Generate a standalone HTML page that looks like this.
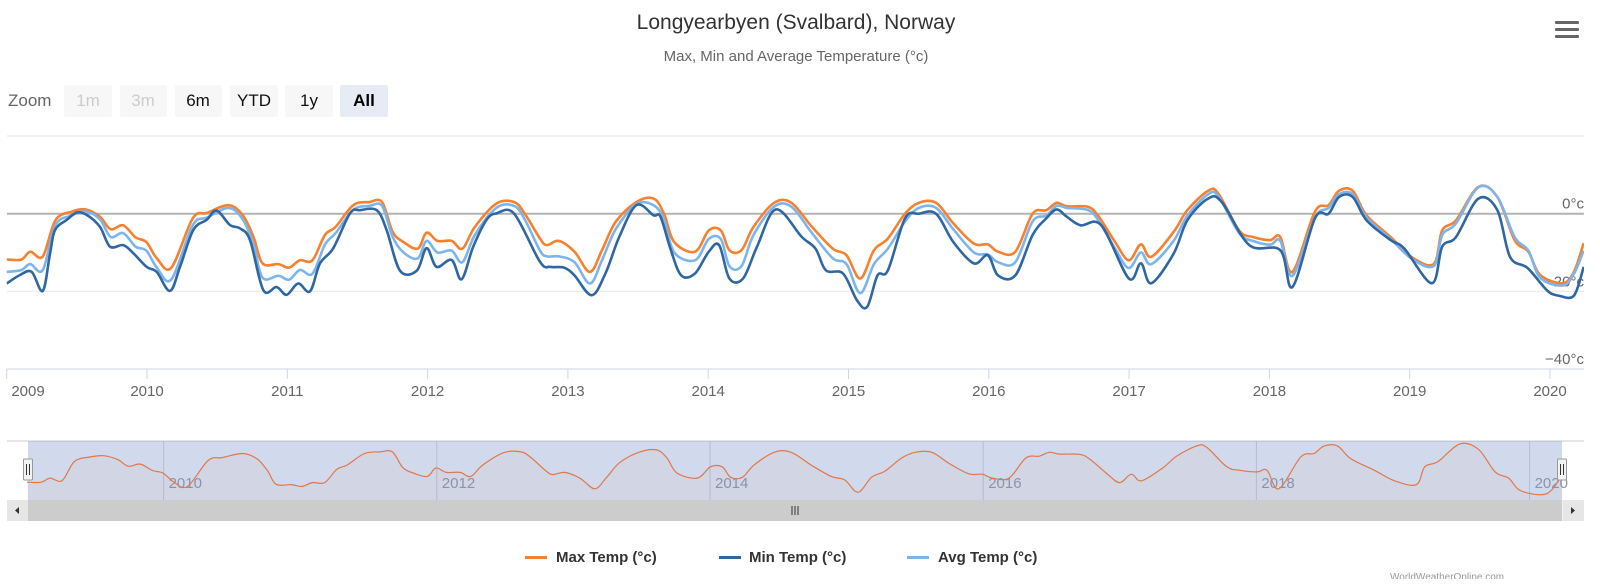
<!DOCTYPE html>
<html><head><meta charset="utf-8">
<style>
html,body{margin:0;padding:0;background:#fff;}
body{width:1600px;height:579px;overflow:hidden;font-family:"Liberation Sans",sans-serif;}
svg text{font-family:"Liberation Sans",sans-serif;}
</style></head>
<body>
<svg id="chart" width="1600" height="579" viewBox="0 0 1600 579" xmlns="http://www.w3.org/2000/svg">
  <rect x="0" y="0" width="1600" height="579" fill="#ffffff"/>
  <text x="796" y="29" text-anchor="middle" font-size="21" fill="#333">Longyearbyen (Svalbard), Norway</text>
  <text x="796" y="61" text-anchor="middle" font-size="15" fill="#666">Max, Min and Average Temperature (°c)</text>
  <g fill="#666">
    <rect x="1555" y="21" width="24" height="3" rx="1"/>
    <rect x="1555" y="28" width="24" height="3" rx="1"/>
    <rect x="1555" y="35" width="24" height="3" rx="1"/>
  </g>
  <text x="8" y="106" font-size="17" fill="#666">Zoom</text>
  <g><rect x="64" y="85" width="48" height="32" rx="2" fill="#f7f7f7"/><text x="88" y="106" text-anchor="middle" font-size="17" fill="#ccc">1m</text></g>
  <g><rect x="120" y="85" width="47" height="32" rx="2" fill="#f7f7f7"/><text x="143" y="106" text-anchor="middle" font-size="17" fill="#ccc">3m</text></g>
  <g><rect x="175" y="85" width="47" height="32" rx="2" fill="#f7f7f7"/><text x="198" y="106" text-anchor="middle" font-size="17" fill="#111">6m</text></g>
  <g><rect x="230" y="85" width="48" height="32" rx="2" fill="#f7f7f7"/><text x="254" y="106" text-anchor="middle" font-size="17" fill="#111">YTD</text></g>
  <g><rect x="285" y="85" width="48" height="32" rx="2" fill="#f7f7f7"/><text x="309" y="106" text-anchor="middle" font-size="17" fill="#111">1y</text></g>
  <g><rect x="340" y="85" width="48" height="32" rx="2" fill="#e6ebf5"/><text x="364" y="106" text-anchor="middle" font-size="17" font-weight="bold" fill="#000">All</text></g>
  <g id="grid"></g>
  <g id="series"></g>
  <g id="xaxis"></g>
  <g id="nav"></g>
  <g>
    <g><rect x="525" y="556" width="22" height="3" fill="#f7812e"/><text x="556" y="562" font-size="15" font-weight="bold" fill="#333">Max Temp (°c)</text></g>
    <g><rect x="719" y="556" width="22" height="3" fill="#2f67a3"/><text x="749" y="562" font-size="15" font-weight="bold" fill="#333">Min Temp (°c)</text></g>
    <g><rect x="907" y="556" width="22" height="3" fill="#7cb5ec"/><text x="938" y="562" font-size="15" font-weight="bold" fill="#333">Avg Temp (°c)</text></g>
  </g>
  <text x="1390" y="580" font-size="10" fill="#999">WorldWeatherOnline.com</text>
</svg>
<script>
const maxDates=[2009.0,2009.105,2009.168,2009.257,2009.347,2009.461,2009.563,2009.665,2009.741,2009.830,2009.919,2009.995,
2010.072,2010.174,2010.326,2010.428,2010.581,2010.683,2010.759,2010.823,2010.937,
2011.013,2011.090,2011.179,2011.268,2011.344,2011.471,2011.586,2011.675,2011.751,2011.828,2011.930,2011.993,
2012.070,2012.171,2012.248,2012.337,2012.490,2012.617,2012.693,2012.801,2012.850,2012.936,
2013.047,2013.157,2013.243,2013.341,2013.488,2013.611,2013.685,2013.758,2013.906,
2014.004,2014.090,2014.151,2014.237,2014.323,2014.470,2014.593,2014.740,2014.888,2014.986,
2015.084,2015.182,2015.281,2015.403,2015.502,2015.624,2015.747,2015.894,2015.993,
2016.066,2016.189,2016.312,2016.410,2016.484,2016.557,2016.703,2016.777,2016.900,2016.998,
2017.084,2017.158,2017.317,2017.415,2017.563,2017.636,2017.784,2017.882,
2018.005,2018.078,2018.164,2018.324,2018.422,2018.496,2018.594,2018.692,2018.864,
2019.011,2019.171,2019.232,2019.330,2019.490,2019.625,2019.748,2019.846,2019.93,
2020.09,2020.17,2020.24];
const maxValues=[-11.8,-11.8,-9.8,-11.0,-1.7,0.5,1.1,-0.8,-4.0,-3.0,-6.1,-7.3,
-11.6,-13.9,-1.2,0.2,2.2,-0.4,-6.0,-12.8,-13.0,
-13.9,-12.0,-12.0,-5.5,-3.4,2.2,3.0,3.0,-4.7,-7.3,-9.0,-4.9,
-7.0,-7.0,-9.0,-3.4,2.6,3.0,0.0,-6.4,-8.1,-7.0,
-9.8,-15.0,-9.4,-2.1,3.0,3.9,0.0,-7.3,-9.8,
-4.3,-4.3,-9.4,-9.4,-3.4,2.8,2.8,-3.4,-9.0,-10.7,
-16.7,-9.4,-6.4,0.0,2.8,2.8,-2.5,-7.7,-7.9,
-9.8,-9.8,0.0,0.9,2.8,1.9,1.8,-0.4,-7.3,-12.0,
-7.9,-11.1,-4.7,0.9,5.9,5.2,-4.3,-6.0,
-6.8,-6.0,-15.0,0.5,2.2,5.9,5.9,-0.4,-6.0,
-11.1,-13.0,-4.3,-1.7,6.9,4.3,-6.8,-9.8,-15.8,
-17.9,-15.0,-7.6];
const avgDates=maxDates.slice();
const avgValues=[-15.0,-14.5,-13.0,-14.5,-3.0,-0.5,0.6,-1.5,-6.0,-5.0,-8.5,-9.5,
-14.0,-16.9,-3.0,-1.0,1.5,-1.5,-8.0,-16.5,-16.0,
-17.0,-14.5,-15.5,-8.0,-5.0,1.0,2.0,2.0,-6.0,-10.0,-11.5,-7.0,
-10.0,-9.5,-12.5,-5.5,1.5,2.0,-1.5,-9.5,-11.0,-11.0,
-12.5,-18.0,-12.0,-4.0,2.5,2.2,-1.5,-10.0,-12.0,
-6.5,-6.5,-13.5,-13.5,-5.5,1.8,1.8,-5.0,-11.5,-13.0,
-20.5,-13.0,-9.0,-2.0,1.5,1.5,-4.0,-10.0,-10.5,
-12.5,-12.5,-2.0,-0.5,2.0,1.5,1.0,-1.5,-9.0,-14.0,
-10.0,-13.0,-7.0,-0.5,5.0,4.5,-5.0,-7.0,
-8.0,-7.0,-16.0,-1.0,1.5,5.0,5.0,-1.0,-6.5,
-11.5,-13.5,-5.5,-2.5,6.8,4.3,-6.0,-9.5,-16.5,
-18.5,-15.5,-9.5];
const minDates=[2009.000,2009.095,2009.178,2009.257,2009.309,2009.344,2009.428,2009.499,2009.570,2009.665,2009.736,2009.831,2009.903,2009.998,
2010.069,2010.164,2010.235,2010.330,2010.425,2010.496,2010.591,2010.663,2010.734,2010.829,2010.924,2010.995,
2011.078,2011.162,2011.233,2011.328,2011.447,2011.518,2011.637,2011.708,2011.803,2011.922,2011.993,
2012.064,2012.171,2012.242,2012.325,2012.420,2012.492,2012.617,2012.801,2012.875,2012.973,
2013.047,2013.169,2013.267,2013.366,2013.488,2013.611,2013.660,2013.734,2013.808,2013.906,
2014.004,2014.078,2014.151,2014.249,2014.348,2014.483,2014.667,2014.765,2014.839,2014.961,
2015.060,2015.133,2015.207,2015.281,2015.403,2015.502,2015.624,2015.747,2015.894,2015.993,
2016.066,2016.189,2016.312,2016.410,2016.484,2016.557,2016.654,2016.802,2016.998,
2017.084,2017.158,2017.317,2017.415,2017.563,2017.661,2017.857,
2018.078,2018.164,2018.324,2018.422,2018.496,2018.594,2018.692,2018.864,2018.962,
2019.158,2019.232,2019.330,2019.490,2019.625,2019.715,2019.84,2019.98,
2020.06,2020.17,2020.24];
const minValues=[-18.0,-15.8,-15.0,-19.9,-10.2,-4.2,-1.6,0.3,-0.3,-3.4,-8.5,-8.1,-10.2,-13.7,
-15.0,-19.9,-13.7,-4.2,-1.6,0.8,-2.9,-3.8,-6.8,-19.7,-18.9,-20.9,
-18.0,-20.0,-12.8,-8.9,0.1,0.9,0.9,-4.2,-14.7,-14.7,-8.9,
-13.7,-11.9,-16.9,-8.5,-1.6,0.1,0.0,-12.4,-13.7,-13.9,
-15.9,-21.0,-15.4,-6.0,2.2,-0.4,-0.8,-9.4,-15.9,-15.4,
-9.8,-8.1,-16.7,-16.7,-8.5,1.1,-6.0,-9.0,-14.6,-15.4,
-22.3,-24.0,-15.9,-14.6,-1.2,0.0,0.0,-7.3,-12.8,-10.7,
-15.9,-15.9,-5.5,-1.2,1.1,-0.8,-3.0,-3.0,-16.7,
-12.8,-17.9,-10.3,-1.7,3.9,3.0,-8.1,
-9.4,-18.9,-1.2,0.0,4.3,4.3,-1.7,-6.8,-9.0,
-17.9,-8.5,-6.0,3.9,0.9,-11.1,-14.0,-19.8,
-21.1,-21.1,-13.7];
const yTicks=[0,-20,-40];
const yTickLabels=["0°c","−20°c","−40°c"];
const xTickYears=[2009,2010,2011,2012,2013,2014,2015,2016,2017,2018,2019,2020];
const navTickYears=[2010,2012,2014,2016,2018,2020];

const NS="http://www.w3.org/2000/svg";
const PL=6.7, PR=1584, PT=136, PB=369;
function xMain(d){return PL+(d-2009)*140.3;}
function yMain(t){return 213.7-t*3.88;}
function xNav(d){return 27+(d-2009)*136.6;}
function yNav(t){return 458-t*2.05;}
function mk(tag,attrs,parent){const e=document.createElementNS(NS,tag);for(const k in attrs)e.setAttribute(k,attrs[k]);parent.appendChild(e);return e;}
function spline(pts){
  let d="M"+pts[0][0].toFixed(1)+","+pts[0][1].toFixed(1);
  for(let i=0;i<pts.length-1;i++){
    const p0=pts[Math.max(0,i-1)],p1=pts[i],p2=pts[i+1],p3=pts[Math.min(pts.length-1,i+2)];
    const c1x=p1[0]+(p2[0]-p0[0])/6,c1y=p1[1]+(p2[1]-p0[1])/6;
    const c2x=p2[0]-(p3[0]-p1[0])/6,c2y=p2[1]-(p3[1]-p1[1])/6;
    d+=" C"+c1x.toFixed(1)+","+c1y.toFixed(1)+" "+c2x.toFixed(1)+","+c2y.toFixed(1)+" "+p2[0].toFixed(1)+","+p2[1].toFixed(1);
  }
  return d;
}
const svg=document.getElementById('chart');
const defs=mk('defs',{},svg);
const cp=mk('clipPath',{id:'plotclip'},defs);
mk('rect',{x:PL,y:PT-10,width:PR-PL,height:PB-PT+10},cp);

// grid
const grid=document.getElementById('grid');
const gTop=mk('line',{x1:7,x2:PR,y1:PT,y2:PT,stroke:'#e6e6e6','stroke-width':1},grid);


yTicks.forEach((t,i)=>{
  const y=yMain(t);
  if(t!==-40){
    const l=mk('line',{x1:7,x2:PR,y1:y,y2:y,stroke:t===0?'#b3b3b3':'#e6e6e6','stroke-width':t===0?2:1},grid);
    
    
  }
  const tx=mk('text',{x:PR,y:y-5,'text-anchor':'end','font-size':15,fill:'#666'},grid);
  tx.textContent=yTickLabels[i];
  
  
});

// series
const sg=document.getElementById('series');
sg.setAttribute('clip-path','url(#plotclip)');
function drawSeries(dates,vals,color,name){
  const pts=dates.map((d,i)=>[xMain(d),yMain(vals[i])]);
  const p=mk('path',{d:spline(pts),fill:'none',stroke:color,'stroke-width':2.6,'stroke-linejoin':'round'},sg);
  
  
}
drawSeries(maxDates,maxValues,'#f7812e','max-temp-line');
drawSeries(avgDates,avgValues,'#7cb5ec','avg-temp-line');
drawSeries(minDates,minValues,'#2f67a3','min-temp-line');

// x axis
const xa=document.getElementById('xaxis');
const axl=mk('line',{x1:7,x2:PR,y1:PB,y2:PB,stroke:'#ccd6eb','stroke-width':1},xa);


xTickYears.forEach(yr=>{
  const x=xMain(yr);
  const tk=mk('line',{x1:x,x2:x,y1:PB,y2:PB+10,stroke:'#ccd6eb','stroke-width':1},xa);
  
  
  const t=mk('text',{x:Math.max(x,28),y:396,'text-anchor':'middle','font-size':15,fill:'#666'},xa);
  t.textContent=String(yr);
  
  
});

// navigator
const nav=document.getElementById('nav');
const nl=mk('line',{x1:7,x2:PR,y1:441,y2:441,stroke:'#cccccc','stroke-width':1},nav);


const navPts=maxDates.map((d,i)=>[xNav(d),yNav(maxValues[i])]);
const area=mk('path',{d:spline(navPts)+" L"+navPts[navPts.length-1][0]+",500 L"+navPts[0][0]+",500 Z",fill:'rgba(247,129,46,0.06)',stroke:'none'},nav);


const mask=mk('rect',{x:28,y:441,width:1534,height:59,fill:'rgba(102,133,194,0.3)'},nav);


navTickYears.forEach(yr=>{
  const x=xNav(yr);
  const l=mk('line',{x1:x,x2:x,y1:441,y2:500,stroke:'rgba(150,160,190,0.5)','stroke-width':1},nav);
  
  
  const t=mk('text',{x:x+5,y:488,'font-size':15,fill:'#8a93aa'},nav);
  t.textContent=String(yr);
  
  
});
const nline=mk('path',{d:spline(navPts),fill:'none',stroke:'#e0784a','stroke-width':1.2},nav);


[28,1562].forEach((x,i)=>{
  const g=mk('g',{},nav);
  
  
  mk('rect',{x:x-4.5,y:459,width:9,height:21,rx:1,fill:'#f2f2f2',stroke:'#999','stroke-width':1},g);
  mk('line',{x1:x-1.5,x2:x-1.5,y1:464,y2:475,stroke:'#333','stroke-width':1},g);
  mk('line',{x1:x+1.5,x2:x+1.5,y1:464,y2:475,stroke:'#333','stroke-width':1},g);
});
// scrollbar
const sb=mk('g',{},nav);


mk('rect',{x:7,y:500,width:1577,height:21,fill:'#f2f2f2'},sb);
mk('rect',{x:28,y:500,width:1534,height:21,fill:'#cccccc'},sb);
mk('rect',{x:7,y:500,width:21,height:21,fill:'#e6e6e6'},sb);
mk('rect',{x:1563,y:500,width:21,height:21,fill:'#e6e6e6'},sb);
mk('path',{d:'M19,507 L15,510.5 L19,514 Z',fill:'#333'},sb);
mk('path',{d:'M1571,507 L1575,510.5 L1571,514 Z',fill:'#333'},sb);
[-3,0,3].forEach(o=>{mk('line',{x1:795+o,x2:795+o,y1:506,y2:515,stroke:'#333','stroke-width':1},sb);});
</script>
</body></html>
